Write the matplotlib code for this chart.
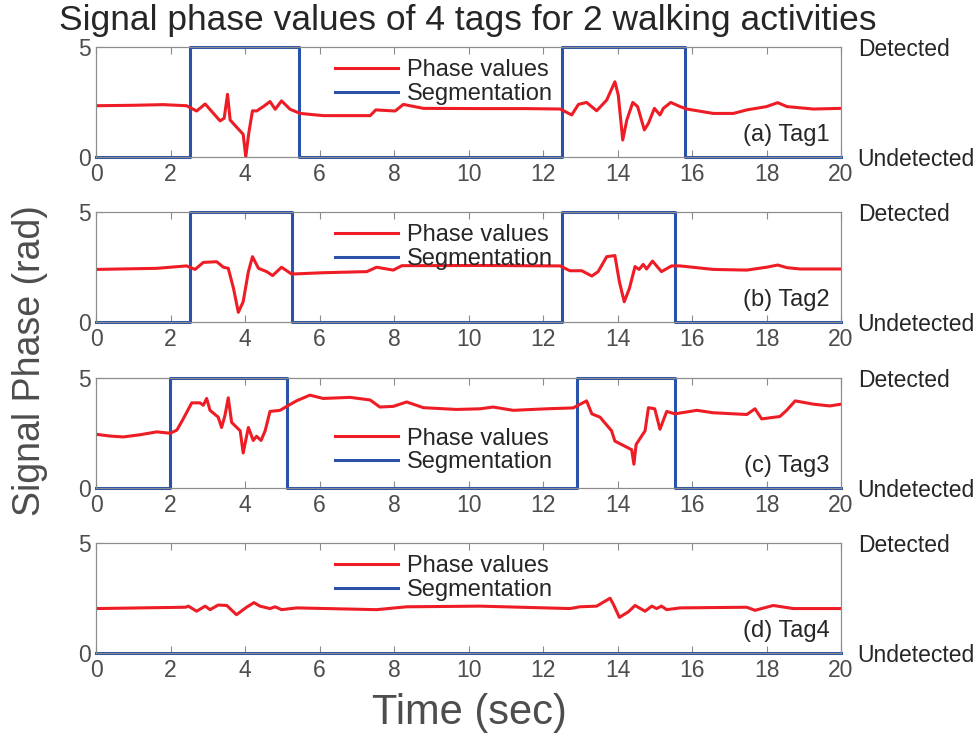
import matplotlib
matplotlib.use('Agg')
import matplotlib.pyplot as plt

plt.rcParams['font.family'] = ['Liberation Sans', 'DejaVu Sans']

# 相位数据 (时间 sec, 相位 rad)
tag1_t = [0, 1.0, 1.8, 2.43, 2.70, 2.93, 3.33, 3.44, 3.53, 3.60, 3.95, 4.02, 4.10, 4.20, 4.31, 4.49,
          4.67, 4.81, 4.98, 5.21, 5.48, 6.10, 7.36, 7.51, 8.03, 8.25, 8.79, 10.3, 11.5, 12.46, 12.77,
          12.95, 13.17, 13.44, 13.71, 13.93, 14.02, 14.14, 14.25, 14.41, 14.54, 14.72, 14.83, 14.99,
          15.14, 15.23, 15.43, 15.68, 15.86, 16.57, 17.11, 17.47, 18.0, 18.30, 18.55, 19.26, 20]
tag1_v = [2.33, 2.35, 2.38, 2.33, 2.09, 2.41, 1.64, 1.76, 2.85, 1.68, 1.03, 0.01, 1.08, 2.10, 2.09, 2.29,
          2.52, 2.17, 2.55, 2.17, 1.98, 1.88, 1.88, 2.14, 2.09, 2.39, 2.21, 2.20, 2.20, 2.18, 1.91,
          2.39, 2.48, 2.10, 2.59, 3.42, 2.82, 0.77, 1.68, 2.48, 2.29, 1.23, 1.53, 2.21,
          1.91, 2.21, 2.48, 2.29, 2.18, 1.98, 1.98, 2.14, 2.29, 2.47, 2.29, 2.18, 2.21]

tag2_t = [0, 1.63, 2.43, 2.66, 2.88, 3.24, 3.42, 3.55, 3.69, 3.82, 3.95, 4.09, 4.20, 4.36, 4.58, 4.74,
          4.98, 5.25, 6.10, 7.27, 7.53, 7.98, 8.21, 10.3, 12.46, 12.72, 13.04, 13.31, 13.48, 13.71,
          13.93, 14.05, 14.18, 14.32, 14.47, 14.58, 14.69, 14.78, 14.94, 15.18, 15.45, 15.68, 16.57,
          17.47, 18.0, 18.30, 18.55, 18.9, 20]
tag2_v = [2.39, 2.44, 2.55, 2.39, 2.71, 2.74, 2.49, 2.44, 1.53, 0.44, 0.92, 2.29, 2.97, 2.44, 2.29, 2.11,
          2.49, 2.18, 2.24, 2.29, 2.49, 2.36, 2.56, 2.57, 2.55, 2.33, 2.33, 2.09, 2.29, 2.97,
          3.02, 1.83, 0.92, 1.53, 2.52, 2.39, 2.62, 2.41, 2.77, 2.29, 2.55, 2.55, 2.39,
          2.36, 2.49, 2.59, 2.47, 2.41, 2.41]

tag3_t = [0, 0.38, 0.73, 1.18, 1.63, 1.99, 2.17, 2.34, 2.57, 2.79, 2.88, 2.97, 3.06, 3.28, 3.37, 3.46,
          3.55, 3.64, 3.87, 3.95, 4.09, 4.22, 4.31, 4.43, 4.54, 4.67, 4.94, 5.12, 5.38, 5.74, 6.10,
          6.82, 7.36, 7.62, 7.98, 8.34, 8.79, 9.68, 10.31, 10.66, 11.2, 12.10, 12.81, 13.17, 13.31,
          13.53, 13.84, 13.93, 14.38, 14.44, 14.50, 14.74, 14.83, 15.0, 15.14, 15.32, 15.54, 16.13,
          16.57, 17.47, 17.69, 17.87, 18.36, 18.54, 18.77, 19.26, 19.7, 20]
tag3_v = [2.44, 2.36, 2.32, 2.42, 2.55, 2.49, 2.63, 3.14, 3.87, 3.87, 3.76, 4.07, 3.53, 3.22, 2.75, 3.29,
          4.10, 2.98, 2.60, 1.59, 2.75, 2.16, 2.35, 2.16, 2.60, 3.48, 3.53, 3.71, 3.96, 4.22, 4.07,
          4.12, 4.00, 3.68, 3.71, 3.91, 3.65, 3.57, 3.60, 3.68, 3.53, 3.60, 3.64, 3.96, 3.37,
          3.22, 2.60, 2.13, 1.74, 1.08, 1.98, 2.60, 3.65, 3.60, 2.67, 3.48, 3.37, 3.53,
          3.42, 3.34, 3.60, 3.14, 3.25, 3.53, 3.96, 3.81, 3.73, 3.81]

tag4_t = [0, 2.40, 2.48, 2.70, 2.93, 3.06, 3.28, 3.51, 3.77, 4.04, 4.24, 4.40, 4.67, 4.81, 4.98, 5.39,
          7.53, 8.34, 10.31, 12.72, 12.99, 13.44, 13.80, 13.89, 14.05, 14.29, 14.47, 14.74, 14.92,
          15.05, 15.18, 15.32, 15.68, 17.47, 17.69, 18.18, 18.72, 20]
tag4_v = [2.02, 2.08, 2.13, 1.90, 2.13, 1.97, 2.18, 2.16, 1.74, 2.08, 2.29, 2.13, 2.02, 2.10, 1.97, 2.05,
          1.97, 2.10, 2.13, 2.02, 2.10, 2.13, 2.49, 2.21, 1.62, 1.87, 2.16, 1.90, 2.13,
          2.02, 2.13, 1.97, 2.05, 2.08, 1.94, 2.16, 2.02, 2.02]

# 分段 (检测到的起止时间)
seg1 = [(2.52, 5.45), (12.51, 15.81)]
seg2 = [(2.52, 5.26), (12.51, 15.54)]
seg3 = [(1.99, 5.13), (12.91, 15.54)]
seg4 = []

tags = ['(a) Tag1', '(b) Tag2', '(c) Tag3', '(d) Tag4']
xticks = [0, 2, 4, 6, 8, 10, 12, 14, 16, 18, 20]

phase_t = [tag1_t, tag2_t, tag3_t, tag4_t]
phase_v = [tag1_v, tag2_v, tag3_v, tag4_v]
segs = [seg1, seg2, seg3, seg4]

red = '#ee1c25'
blue = '#2a52a8'
gray = '#4d4d4d'
spine = '#8c8c8c'

fig = plt.figure(figsize=(9.77, 7.38), dpi=100, facecolor='white')
bottoms = [0.7873, 0.5637, 0.3388, 0.1152]
legend_locs = [(0.298, 1.04), (0.298, 1.04), (0.298, 0.70), (0.298, 1.04)]

for i in range(4):
    ax = fig.add_axes([0.0983, bottoms[i], 0.7625, 0.149])
    # 分段阶梯线
    st = [0]
    sv = [0]
    for a, b in segs[i]:
        st += [a, a, b, b]
        sv += [0, 5, 5, 0]
    st.append(20)
    sv.append(0)
    ax.plot(phase_t[i], phase_v[i], color=red, lw=2.2, label='Phase values', zorder=3)
    ax.plot(st, sv, color=blue, lw=2.2, label='Segmentation', zorder=2, clip_on=False)
    ax.set_xlim(0, 20)
    ax.set_ylim(0, 5)
    ax.set_xticks(xticks)
    ax.set_yticks([0, 5])
    ax.tick_params(direction='in', length=5, color=spine, labelcolor=gray, labelsize=16.5,
                   top=True, pad=4)
    for s in ax.spines.values():
        s.set_color(spine)
    ax.text(0.985, 0.2, tags[i], transform=ax.transAxes, ha='right', va='center',
            fontsize=17, color='#262626')
    leg = ax.legend(loc='upper left', bbox_to_anchor=legend_locs[i], frameon=False, fontsize=17,
                    handlelength=2.7, handletextpad=0.35, labelspacing=0.08, borderpad=0.2)
    for t in leg.get_texts():
        t.set_color('#262626')

    ax2 = ax.twinx()
    ax2.set_ylim(0, 1)
    ax2.set_yticks([0, 1])
    ax2.set_yticklabels(['Undetected', 'Detected'])
    ax2.tick_params(length=0, labelsize=16.5, labelcolor='#262626', pad=12)
    for s in ax2.spines.values():
        s.set_color(spine)

fig.text(0.479, 0.972, 'Signal phase values of 4 tags for 2 walking activities',
         ha='center', va='center', fontsize=25.5, color='#262626')
fig.text(0.031, 0.511, 'Signal Phase (rad)', rotation=90, ha='center', va='center',
         fontsize=27, color=gray)
fig.text(0.481, 0.034, 'Time (sec)', ha='center', va='center', fontsize=30, color=gray)

fig.savefig('out.png', dpi=100)
